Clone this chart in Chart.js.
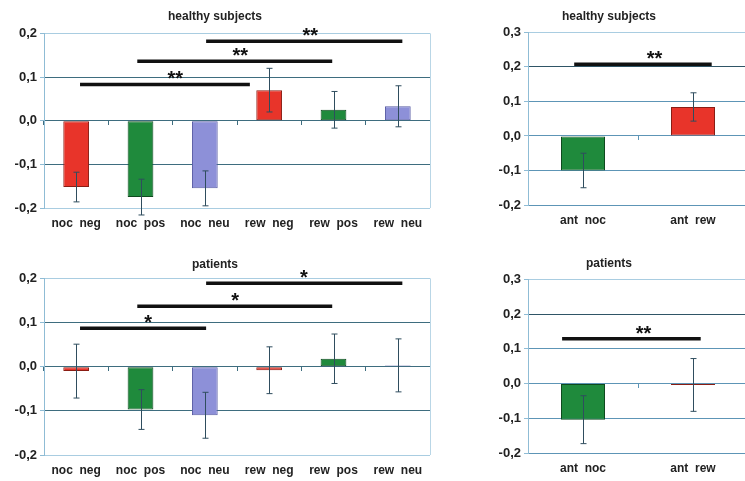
<!DOCTYPE html>
<html>
<head>
<meta charset="utf-8">
<script src="https://cdn.jsdelivr.net/npm/chart.js@4.4.1/dist/chart.umd.min.js"></script>
<style>
  html, body { margin: 0; padding: 0; background: #fff; overflow: hidden; width: 745px; height: 481px; }
  .box { position: absolute; }
</style>
</head>
<body>
<div class="box" style="left:0;top:0;width:440px;height:240px"><canvas id="c1"></canvas></div>
<div class="box" style="left:0;top:245px;width:440px;height:236px"><canvas id="c2"></canvas></div>
<div class="box" style="left:470px;top:0;width:315px;height:240px"><canvas id="c3"></canvas></div>
<div class="box" style="left:470px;top:245px;width:315px;height:236px"><canvas id="c4"></canvas></div>
<script>
// data
const catsEmo = ['noc  neg', 'noc  pos', 'noc  neu', 'rew  neg', 'rew  pos', 'rew  neu'];
const healthyEmo = [-0.152, -0.175, -0.155, 0.070, 0.025, 0.033];
const healthyEmoErr = [0.034, 0.041, 0.040, 0.050, 0.042, 0.047];
const patientsEmo = [-0.010, -0.097, -0.110, -0.008, 0.018, 0.003];
const patientsEmoErr = [0.061, 0.045, 0.052, 0.053, 0.056, 0.060];

const catsAnt = ['ant  noc', 'ant  rew'];
const healthyAnt = [-0.100, 0.084];
const healthyAntErr = [0.050, 0.041];
const patientsAnt = [-0.104, -0.004];
const patientsAntErr = [0.069, 0.076];

// significance bars: from / to in category units, height, mark, mark x
const healthyEmoSig = [[0.06, 2.70, 0.083, '**', 1.54], [0.95, 3.98, 0.136, '**', 2.55], [2.02, 5.07, 0.182, '**', 3.64]];
const patientsEmoSig = [[0.06, 2.02, 0.087, '*', 1.12], [0.95, 3.98, 0.137, '*', 2.47], [2.02, 5.07, 0.189, '*', 3.54]];
const healthyAntSig = [[-0.08, 1.17, 0.208, '**', 0.65]];
const patientsAntSig = [[-0.19, 1.07, 0.129, '**', 0.55]];

const RED = '#e8342a', GREEN = '#1f8a3c', BLUE = '#8d90d8';
const RED_B = '#8a1d14', GREEN_B = '#0e4a1e', BLUE_B = '#5a5da4';
const emoColors = [RED, GREEN, BLUE, RED, GREEN, BLUE];
const emoBorders = [RED_B, GREEN_B, BLUE_B, RED_B, GREEN_B, BLUE_B];
const antColors = [GREEN, RED];
const antBorders = [GREEN_B, RED_B];

const FONT = "'Liberation Sans', Arial, sans-serif";
const fmt = v => (Math.abs(v) < 1e-9 ? 0 : v).toFixed(1).replace('.', ',');

const overlay = {
  id: 'overlay',
  beforeDatasetsDraw(chart, args, o) {
    if (!o.frame) return;
    const a = chart.chartArea, ctx = chart.ctx;
    ctx.save();
    ctx.strokeStyle = '#b9d6e6';
    ctx.lineWidth = 1;
    ctx.beginPath();
    ctx.moveTo(Math.round(a.right) + 0.5, a.top);
    ctx.lineTo(Math.round(a.right) + 0.5, a.bottom);
    ctx.stroke();
    ctx.restore();
  },
  afterDatasetsDraw(chart) {
    const ctx = chart.ctx, ys = chart.scales.y, xl = chart.scales.xl;
    const bars = chart.data.datasets[0];
    const meta = chart.getDatasetMeta(0);
    ctx.save();
    ctx.strokeStyle = '#2f4d5e';
    ctx.lineWidth = 1;
    meta.data.forEach((bar, i) => {
      const v = bars.data[i], e = bars.errors[i];
      const x = Math.round(bar.x) + 0.5;
      const yt = ys.getPixelForValue(v + e), yb = ys.getPixelForValue(v - e);
      ctx.beginPath();
      ctx.moveTo(x, yt); ctx.lineTo(x, yb);
      ctx.moveTo(x - 3, yt); ctx.lineTo(x + 3, yt);
      ctx.moveTo(x - 3, yb); ctx.lineTo(x + 3, yb);
      ctx.stroke();
    });
    ctx.fillStyle = '#111';
    ctx.font = 'bold 20px ' + FONT;
    ctx.textAlign = 'center';
    ctx.textBaseline = 'alphabetic';
    chart.data.datasets.slice(1).forEach(ds => {
      const x = xl.getPixelForValue(ds.markX);
      const y = ys.getPixelForValue(ds.data[0].y) - 10;
      ctx.fillText(ds.mark, x, y + 11);
    });
    ctx.restore();
  }
};

function buildChart(id, p) {
  const n = p.labels.length;
  const sigSets = p.sig.map(s => ({
    type: 'line',
    xAxisID: 'xl',
    data: [{ x: s[0], y: s[2] }, { x: s[1], y: s[2] }],
    mark: s[3],
    markX: s[4],
    borderColor: '#111',
    borderWidth: 3.5,
    pointRadius: 0,
    fill: false,
    order: 0
  }));
  return new Chart(document.getElementById(id), {
    type: 'bar',
    data: {
      labels: p.labels,
      datasets: [{
        data: p.values,
        errors: p.errors,
        backgroundColor: p.colors,
        borderColor: p.borders,
        borderWidth: 1,
        borderSkipped: false,
        grouped: false,
        categoryPercentage: 1,
        barPercentage: 0.4,
        order: 1
      }].concat(sigSets)
    },
    options: {
      responsive: true,
      maintainAspectRatio: false,
      animation: false,
      layout: { padding: { left: 0, right: p.padRight, top: 0, bottom: 0 } },
      plugins: {
        legend: { display: false },
        tooltip: { enabled: false },
        title: {
          display: true,
          text: p.title,
          color: '#222',
          font: { family: FONT, size: 12, weight: 'bold' },
          padding: p.titlePad
        },
        overlay: { frame: p.frame }
      },
      scales: {
        x: {
          type: 'category',
          offset: true,
          grid: { display: false },
          border: { display: false },
          ticks: { color: '#222', padding: 0, font: { family: FONT, size: 12, weight: 'bold' } },
          afterFit: s => { s.height = p.xHeight; }
        },
        x0: {
          type: 'category',
          axis: 'x',
          labels: p.labels,
          position: { y: 0 },
          offset: true,
          border: { display: false },
          grid: { display: true, drawOnChartArea: false, drawTicks: true, tickLength: 4, offset: true, color: p.zeroColor },
          ticks: { display: false },
          afterFit: s => { s.height = 0; }
        },
        xl: {
          type: 'linear',
          axis: 'x',
          display: false,
          offset: false,
          min: -0.5,
          max: n - 0.5
        },
        y: {
          min: p.yMin,
          max: p.yMax,
          border: { display: true, color: '#8fbcd5', width: 1 },
          grid: {
            color: c => p.gridColor(c.tick.value),
            tickColor: '#8fbcd5',
            tickLength: 4,
            lineWidth: 1
          },
          ticks: {
            stepSize: 0.1,
            padding: 3,
            color: '#222',
            font: { family: FONT, size: 13, weight: 'bold' },
            callback: v => fmt(v)
          },
          afterFit: s => { s.width = p.yWidth; }
        }
      }
    },
    plugins: [overlay]
  });
}

const leftGrid = v => (Math.abs(v) > 0.15 ? '#a9cde1' : '#3e6d7f');
const rightGrid = v => (v > 0.25 ? '#a9cde1' : (Math.abs(v - 0.2) < 0.01 ? '#2f5566' : '#5d95b6'));

buildChart('c1', {
  labels: catsEmo, values: healthyEmo, errors: healthyEmoErr, colors: emoColors, borders: emoBorders,
  sig: healthyEmoSig, title: 'healthy subjects', yMin: -0.2, yMax: 0.2,
  yWidth: 44, xHeight: 32, padRight: 10, titlePad: { top: 9, bottom: 10 }, frame: true,
  gridColor: leftGrid, zeroColor: '#3e6d7f'
});
buildChart('c2', {
  labels: catsEmo, values: patientsEmo, errors: patientsEmoErr, colors: emoColors, borders: emoBorders,
  sig: patientsEmoSig, title: 'patients', yMin: -0.2, yMax: 0.2,
  yWidth: 44, xHeight: 26, padRight: 10, titlePad: { top: 12, bottom: 7 }, frame: true,
  gridColor: leftGrid, zeroColor: '#3e6d7f'
});
buildChart('c3', {
  labels: catsAnt, values: healthyAnt, errors: healthyAntErr, colors: antColors, borders: antBorders,
  sig: healthyAntSig, title: 'healthy subjects', yMin: -0.2, yMax: 0.3,
  yWidth: 58, xHeight: 35, padRight: 37, titlePad: { top: 9, bottom: 9 }, frame: false,
  gridColor: rightGrid, zeroColor: '#5d95b6'
});
buildChart('c4', {
  labels: catsAnt, values: patientsAnt, errors: patientsAntErr, colors: antColors, borders: antBorders,
  sig: patientsAntSig, title: 'patients', yMin: -0.2, yMax: 0.3,
  yWidth: 58, xHeight: 28, padRight: 37, titlePad: { top: 11, bottom: 9 }, frame: false,
  gridColor: rightGrid, zeroColor: '#5d95b6'
});
</script>
</body>
</html>
